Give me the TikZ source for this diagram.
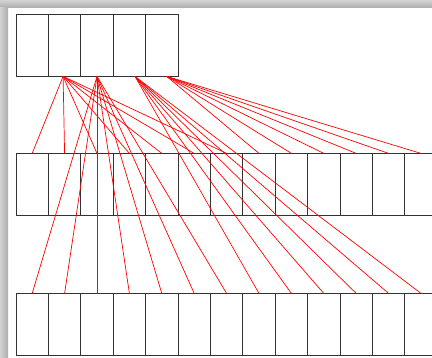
\documentclass[tikz,border=0pt]{standalone}
\usepackage{tikz}
\usetikzlibrary{positioning}

\begin{document}
\begin{tikzpicture}[x=1pt, y=-1pt,
 cell/.style={draw=black!80, line width=0.9pt, rectangle, minimum width=32.4pt, minimum height=62.4pt, inner sep=0pt, outer sep=0pt},
 link/.style={draw=red, line width=0.7pt}]
 \useasboundingbox (0,0) rectangle (432,358);
 \clip (0,0) rectangle (432,358);

 % screenshot shadow
 \shade[top color=gray!35, bottom color=gray!65] (0,0) rectangle (432,8);
 \shade[left color=gray!35, right color=gray!65] (0,8) rectangle (8,358);

 % top row
 \node[cell, anchor=north west] (t0) at (16,14) {};
 \node[cell, right=0pt of t0] (t1) {};
 \node[cell, right=0pt of t1] (t2) {};
 \node[cell, right=0pt of t2] (t3) {};
 \node[cell, right=0pt of t3] (t4) {};

 % middle row
 \node[cell, below=77pt of t0] (m0) {};
 \node[cell, right=0pt of m0] (m1) {};
 \node[cell, right=0pt of m1] (m2) {};
 \node[cell, right=0pt of m2] (m3) {};
 \node[cell, right=0pt of m3] (m4) {};
 \node[cell, right=0pt of m4] (m5) {};
 \node[cell, right=0pt of m5] (m6) {};
 \node[cell, right=0pt of m6] (m7) {};
 \node[cell, right=0pt of m7] (m8) {};
 \node[cell, right=0pt of m8] (m9) {};
 \node[cell, right=0pt of m9] (m10) {};
 \node[cell, right=0pt of m10] (m11) {};
 \node[cell, right=0pt of m11] (m12) {};

 % bottom row
 \node[cell, below=77.6pt of m0] (b0) {};
 \node[cell, right=0pt of b0] (b1) {};
 \node[cell, right=0pt of b1] (b2) {};
 \node[cell, right=0pt of b2] (b3) {};
 \node[cell, right=0pt of b3] (b4) {};
 \node[cell, right=0pt of b4] (b5) {};
 \node[cell, right=0pt of b5] (b6) {};
 \node[cell, right=0pt of b6] (b7) {};
 \node[cell, right=0pt of b7] (b8) {};
 \node[cell, right=0pt of b8] (b9) {};
 \node[cell, right=0pt of b9] (b10) {};
 \node[cell, right=0pt of b10] (b11) {};
 \node[cell, right=0pt of b11] (b12) {};

 \coordinate (srcA) at ([xshift=-1.5pt]t1.south);
 \coordinate (srcB) at (t2.south);
 \coordinate (srcC) at ([xshift=5.6pt]t3.south);
 \coordinate (srcD) at ([xshift=4.9pt]t4.south);

 \draw[link] (srcA) -- (m0.north);
 \draw[link] (srcA) -- (m1.north);
 \draw[link] (srcA) -- (m2.north);
 \draw[link] (srcA) -- (m3.north);
 \draw[link] (srcA) -- (m4.north);
 \draw[link] (srcA) -- (m5.north);
 \draw[link] (srcA) -- (m6.north);

 \draw[link] (srcD) -- (m7.north);
 \draw[link] (srcD) -- (m8.north);
 \draw[link] (srcD) -- (m9.north);
 \draw[link] (srcD) -- (m10.north);
 \draw[link] (srcD) -- (m11.north);
 \draw[link] (srcD) -- (m12.north);

 \draw[link] (srcB) -- (b0.north);
 \draw[link] (srcB) -- (b1.north);
 \draw[link] (srcB) -- (b2.north);
 \draw[link] (srcB) -- (b3.north);
 \draw[link] (srcB) -- (b4.north);
 \draw[link] (srcB) -- (b5.north);
 \draw[link] (srcB) -- (b6.north);

 \draw[link] (srcC) -- (b7.north);
 \draw[link] (srcC) -- (b8.north);
 \draw[link] (srcC) -- (b9.north);
 \draw[link] (srcC) -- (b10.north);
 \draw[link] (srcC) -- (b11.north);
 \draw[link] (srcC) -- (b12.north);
\end{tikzpicture}
\end{document}
